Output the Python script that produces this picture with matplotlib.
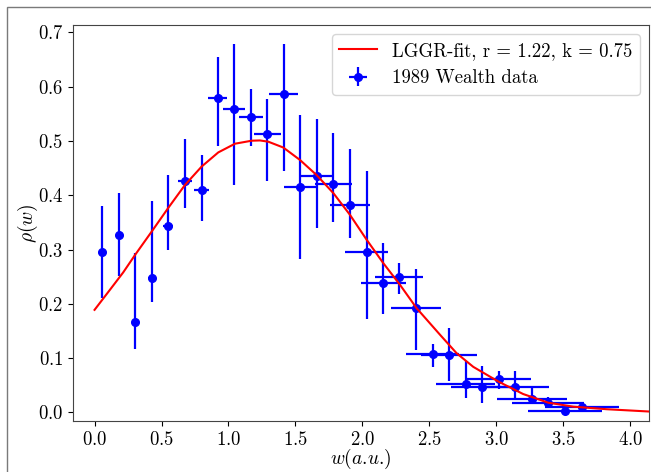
import matplotlib
matplotlib.use("Agg")
import matplotlib.pyplot as plt
from matplotlib.patches import Rectangle
import numpy as np

plt.rcParams['font.family'] = 'serif'
plt.rcParams['font.serif'] = ['cmr10']
plt.rcParams['mathtext.fontset'] = 'cm'
plt.rcParams['axes.formatter.use_mathtext'] = True

# ---- data ----
w_data = [0.058, 0.180, 0.304, 0.429, 0.546, 0.675, 0.800, 0.919, 1.041, 1.166,
          1.290, 1.412, 1.536, 1.661, 1.783, 1.907, 2.032, 2.156, 2.276, 2.400,
          2.525, 2.649, 2.771, 2.893, 3.018, 3.142, 3.264, 3.388, 3.513, 3.638]
rho_data = [0.296, 0.326, 0.166, 0.247, 0.343, 0.427, 0.409, 0.580, 0.558, 0.545,
            0.512, 0.587, 0.415, 0.435, 0.420, 0.382, 0.295, 0.238, 0.250, 0.192,
            0.108, 0.106, 0.052, 0.046, 0.061, 0.046, 0.025, 0.017, 0.003, 0.011]
rho_low = [0.210, 0.252, 0.116, 0.204, 0.299, 0.376, 0.353, 0.491, 0.419, 0.491,
           0.427, 0.445, 0.283, 0.339, 0.351, 0.321, 0.172, 0.181, 0.218, 0.115,
           0.083, 0.058, 0.026, 0.018, 0.043, 0.026, 0.017, 0.010, 0.000, 0.006]
rho_high = [0.381, 0.405, 0.294, 0.389, 0.437, 0.504, 0.475, 0.655, 0.679, 0.595,
            0.577, 0.679, 0.548, 0.540, 0.515, 0.485, 0.445, 0.312, 0.275, 0.264,
            0.127, 0.155, 0.095, 0.086, 0.076, 0.076, 0.045, 0.029, 0.007, 0.016]
w_err = [0.005, 0.014, 0.022, 0.030, 0.037, 0.050, 0.056, 0.069, 0.081, 0.091,
         0.100, 0.110, 0.120, 0.130, 0.140, 0.149, 0.159, 0.169, 0.180, 0.190,
         0.200, 0.210, 0.220, 0.228, 0.240, 0.250, 0.260, 0.270, 0.274, 0.276]

w_fit = [0.0, 0.115, 0.214, 0.302, 0.426, 0.551, 0.675, 0.800, 0.924, 1.049,
         1.173, 1.235, 1.297, 1.409, 1.534, 1.659, 1.783, 1.907, 2.032, 2.156,
         2.281, 2.405, 2.580, 2.704, 2.828, 3.015, 3.200, 3.388, 3.575, 3.824, 4.16]
rho_fit = [0.189, 0.226, 0.258, 0.290, 0.333, 0.377, 0.419, 0.453, 0.479, 0.495,
           0.5005, 0.501, 0.4987, 0.488, 0.465, 0.437, 0.404, 0.364, 0.318, 0.275,
           0.235, 0.192, 0.143, 0.109, 0.084, 0.057, 0.034, 0.018, 0.0107, 0.006, 0.0015]

fit_label = "LGGR-fit, r = 1.22, k = 0.75"
data_label = "1989 Wealth data"
x_ticks = [0.0, 0.5, 1.0, 1.5, 2.0, 2.5, 3.0, 3.5, 4.0]
y_ticks = [0.0, 0.1, 0.2, 0.3, 0.4, 0.5, 0.6, 0.7]

W, H = 651, 472
fig = plt.figure(figsize=(W / 100, H / 100), dpi=100)
ax = fig.add_axes([73 / W, 1 - 421 / H, (649 - 73) / W, (421 - 25) / H])

# outer frame of the screenshot
fig.patches.append(Rectangle((7 / W, -0.1), 1.2, (H - 7) / H + 0.1,
                             transform=fig.transFigure, fill=False,
                             edgecolor='#7a7a7a', lw=1.0))

rho = np.array(rho_data)
yerr = [rho - np.array(rho_low), np.array(rho_high) - rho]

ax.plot(w_fit, rho_fit, color='red', lw=1.5, label=fit_label, zorder=3)
ax.errorbar(w_data, rho_data, xerr=w_err, yerr=yerr, fmt='o', color='blue',
            ecolor='blue', markersize=5.5, elinewidth=1.6, capsize=0,
            label=data_label, zorder=2)

ax.set_xlim(-0.161, 4.140)
ax.set_ylim(-0.0157, 0.7136)
ax.set_xticks(x_ticks)
ax.set_yticks(y_ticks)
ax.tick_params(labelsize=13.5)
ax.set_xlabel(r'$w(a$.$u$.$)$', fontsize=14, labelpad=-1)
ax.set_ylabel(r'$\rho(w)$', fontsize=14, labelpad=-2)
for s in ax.spines.values():
    s.set_edgecolor('#444444')

ax.legend(loc='upper right', fontsize=13.5)

fig.savefig('out.png', dpi=100)
